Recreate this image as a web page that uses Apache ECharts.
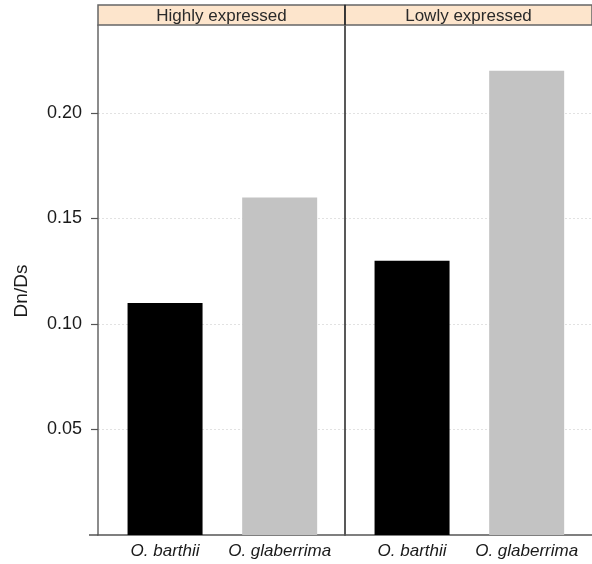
<!DOCTYPE html>
<html>
<head>
<meta charset="utf-8">
<script src="https://cdn.jsdelivr.net/npm/echarts@6/dist/echarts.min.js"></script>
<style>
  html, body { margin: 0; padding: 0; background: #fff; }
  #chart { width: 592px; height: 564px; }
</style>
</head>
<body>
<div id="chart"></div>
<script>
// Dn/Ds by species, split by expression level
const panels = ['Highly expressed', 'Lowly expressed'];
const species = ['O. barthii', 'O. glaberrima'];
const highlyExpressed = [0.11, 0.16];
const lowlyExpressed = [0.13, 0.22];
const yTicks = [0.05, 0.10, 0.15, 0.20];
const yTitle = 'Dn/Ds';
const speciesColors = ['#000000', '#c3c3c3'];

const font = '"Liberation Sans", Arial, Helvetica, sans-serif';

// panel geometry
const W = 592, H = 564;
const plotTop = 25, plotBottom = 29, leftEdge = 98, panelW = 247;
const stripTop = 5;

const chart = echarts.init(document.getElementById('chart'), null, { renderer: 'canvas' });

const panelValues = [highlyExpressed, lowlyExpressed];

const grids = panels.map((p, i) => ({
  left: leftEdge + i * panelW,
  width: panelW,
  top: plotTop,
  bottom: plotBottom,
  containLabel: false
}));

const xAxes = panels.map((p, i) => ({
  type: 'value',
  gridIndex: i,
  min: 0.415,
  max: 2.57,
  splitLine: { show: false },
  axisLine: { show: true, onZero: false, lineStyle: { color: '#555', width: 1.5 } },
  axisTick: { show: false },
  axisLabel: {
    customValues: [1, 2],
    formatter: v => species[Math.round(v) - 1] || '',
    fontFamily: font,
    fontStyle: 'italic',
    fontSize: 17,
    color: '#1a1a1a',
    margin: 8
  }
}));

const yAxes = panels.map((p, i) => ({
  type: 'value',
  gridIndex: i,
  min: 0,
  max: 0.2417,
  interval: 0.05,
  axisLine: { show: true, lineStyle: { color: i === 0 ? '#666' : '#222', width: 1.5 } },
  axisTick: {
    show: i === 0,
    customValues: yTicks,
    length: 7,
    lineStyle: { color: '#555', width: 1.2 }
  },
  axisLabel: {
    show: i === 0,
    customValues: yTicks,
    formatter: v => v.toFixed(2),
    fontFamily: font,
    fontSize: 18,
    color: '#1a1a1a',
    margin: 16
  },
  splitLine: {
    show: true,
    lineStyle: { color: '#e2e2e2', type: [2, 2], width: 1 }
  }
}));

const series = panels.map((p, i) => ({
  type: 'bar',
  xAxisIndex: i,
  yAxisIndex: i,
  barWidth: 75,
  data: panelValues[i].map((v, k) => ({
    value: [k + 1, v],
    itemStyle: { color: speciesColors[k] }
  })),
  silent: true
}));

// strip headers over each panel
const graphics = [];
panels.forEach((p, i) => {
  const x = leftEdge + i * panelW;
  graphics.push({
    type: 'rect',
    shape: { x: x, y: stripTop, width: panelW, height: plotTop - stripTop },
    style: { fill: '#fde5cc', stroke: '#666', lineWidth: 1.5 },
    z: 10
  });
  graphics.push({
    type: 'text',
    x: x + panelW / 2,
    y: stripTop + (plotTop - stripTop) / 2 + 1,
    style: {
      text: p,
      fontFamily: font,
      fontSize: 17,
      fill: '#2a2a2a',
      align: 'center',
      verticalAlign: 'middle'
    },
    z: 11
  });
});
// divider between panels through the strip
graphics.push({
  type: 'line',
  shape: { x1: leftEdge + panelW, y1: stripTop, x2: leftEdge + panelW, y2: plotTop },
  style: { stroke: '#222', lineWidth: 1.5 },
  z: 12
});
// bottom frame extends slightly left of the y axis
graphics.push({
  type: 'line',
  shape: { x1: leftEdge - 9, y1: H - plotBottom, x2: leftEdge, y2: H - plotBottom },
  style: { stroke: '#555', lineWidth: 1.5 },
  z: 12
});
// y axis title
graphics.push({
  type: 'text',
  x: 22,
  y: 291,
  rotation: Math.PI / 2,
  style: {
    text: yTitle,
    fontFamily: font,
    fontSize: 19,
    fill: '#1a1a1a',
    align: 'center',
    verticalAlign: 'middle'
  }
});

chart.setOption({
  animation: false,
  backgroundColor: '#fff',
  grid: grids,
  xAxis: xAxes,
  yAxis: yAxes,
  series: series,
  graphic: graphics
});
</script>
</body>
</html>
